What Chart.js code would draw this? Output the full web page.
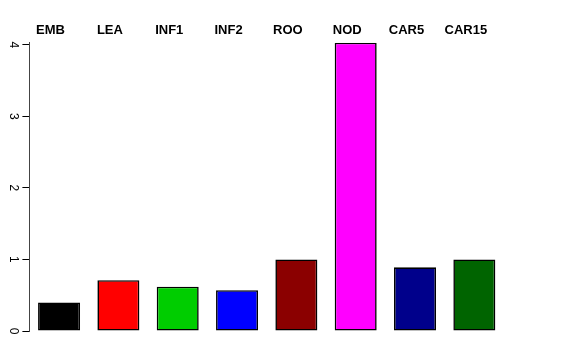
<!DOCTYPE html>
<html>
<head>
<meta charset="utf-8">
<script src="https://cdn.jsdelivr.net/npm/chart.js@4"></script>
<style>
    html, body { margin: 0; padding: 0; background: #ffffff; }
    #wrap { width: 576px; height: 360px; }
</style>
</head>
<body>
<div id="wrap"><canvas id="barChart" width="576" height="360"></canvas></div>
<script>
// Datos del gráfico
const categorias = ['EMB', 'LEA', 'INF1', 'INF2', 'ROO', 'NOD', 'CAR5', 'CAR15'];
const valores = [0.40, 0.71, 0.62, 0.57, 1.00, 4.03, 0.89, 1.00];
const colores = ['#000000', '#ff0000', '#00cd00', '#0000ff', '#8b0000', '#ff00ff', '#00008b', '#006400'];
const ticksY = [0, 1, 2, 3, 4];

const fuente = '"Liberation Sans", Arial, Helvetica, sans-serif';

const ctx = document.getElementById('barChart').getContext('2d');
new Chart(ctx, {
    type: 'bar',
    data: {
        labels: categorias,
        datasets: [{
            data: valores,
            backgroundColor: colores,
            borderColor: '#000000',
            borderWidth: 1.6,
            borderSkipped: false,
            categoryPercentage: 1.0,
            barPercentage: 0.708
        }]
    },
    options: {
        responsive: false,
        animation: false,
        layout: {
            padding: { left: 0, right: 72, top: 0, bottom: 29 }
        },
        plugins: {
            legend: { display: false },
            tooltip: { enabled: false }
        },
        scales: {
            x: {
                position: 'top',
                grid: { display: false, drawTicks: false },
                border: { display: false },
                ticks: {
                    color: '#000000',
                    font: { family: fuente, size: 13, weight: 'bold' },
                    padding: 4,
                    labelOffset: -8.5,
                    maxRotation: 0,
                    minRotation: 0
                },
                afterFit: (scale) => { scale.height = 42.7; }
            },
            y: {
                min: 0,
                max: 4.03,
                afterBuildTicks: (scale) => {
                    scale.ticks = ticksY.map(v => ({ value: v }));
                },
                grid: {
                    drawOnChartArea: false,
                    color: '#000000',
                    tickLength: 7
                },
                border: { display: true, color: '#444444', width: 1 },
                ticks: {
                    color: '#000000',
                    font: { family: fuente, size: 12 },
                    padding: 6,
                    crossAlign: 'center',
                    minRotation: -90,
                    maxRotation: -90
                },
                afterFit: (scale) => { scale.width = 29.4; }
            }
        }
    }
});
</script>
</body>
</html>
